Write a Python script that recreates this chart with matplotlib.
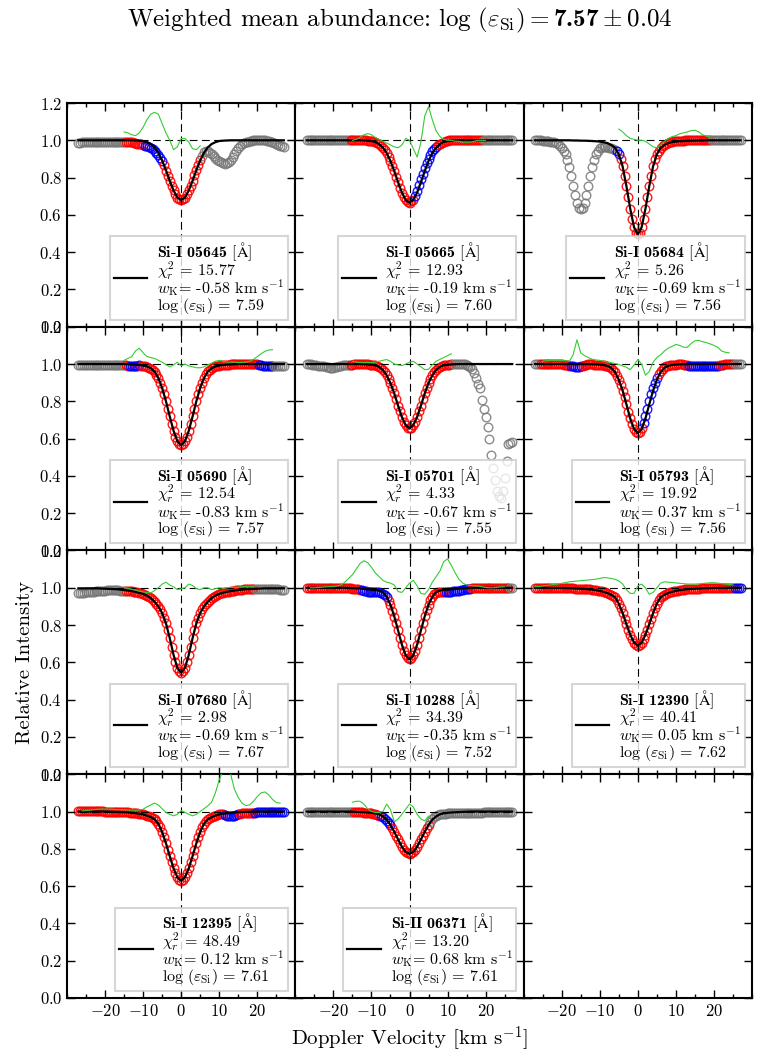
import numpy as np
import matplotlib
matplotlib.use('Agg')
import matplotlib.pyplot as plt
from matplotlib.lines import Line2D
from matplotlib.ticker import MultipleLocator, FixedLocator

plt.rcParams['font.family'] = 'serif'
plt.rcParams['font.serif'] = ['cmr10']
plt.rcParams['mathtext.fontset'] = 'custom'
plt.rcParams['mathtext.rm'] = 'cmr10'
plt.rcParams['mathtext.it'] = 'cmmi10'
plt.rcParams['mathtext.bf'] = 'cmb10'
plt.rcParams['mathtext.sf'] = 'cmss10'
plt.rcParams['mathtext.tt'] = 'cmtt10'
plt.rcParams['mathtext.cal'] = 'cmsy10'
plt.rcParams['mathtext.fallback'] = 'cm'
plt.rcParams['axes.formatter.use_mathtext'] = True
plt.rcParams['axes.unicode_minus'] = True

# ---------------- data ----------------
VEL_OBS = np.linspace(-27, 27, 109)   # observed samples, every 0.5 km/s
VEL_MOD = np.arange(-27, 28)          # model / residual samples, every 1 km/s

ELEMENTS = ['Si-I', 'Si-I', 'Si-I', 'Si-I', 'Si-I', 'Si-I', 'Si-I', 'Si-I', 'Si-I', 'Si-I', 'Si-II']
LINE_IDS = ['05645', '05665', '05684', '05690', '05701', '05793', '07680', '10288', '12390', '12395', '06371']
CHI2 = [15.77, 12.93, 5.26, 12.54, 4.33, 19.92, 2.98, 34.39, 40.41, 48.49, 13.20]
WK = [-0.58, -0.19, -0.69, -0.83, -0.67, 0.37, -0.69, -0.35, 0.05, 0.12, 0.68]
LOGEPS = [7.59, 7.60, 7.56, 7.57, 7.55, 7.56, 7.67, 7.52, 7.62, 7.61, 7.61]
MEAN_LOGEPS = 7.57
ERR_LOGEPS = 0.04
XTICKS = [-20, -10, 0, 10, 20]

# Si-I 05645
OBS_05645 = [0.985, 0.988, 0.99, 0.99, 0.99, 0.99, 0.99, 0.99, 0.99, 0.99,
             0.99, 0.99, 0.99, 0.99, 0.99, 0.99, 0.99, 0.99, 0.99, 0.99,
             0.99, 0.99, 0.99, 0.99, 0.99, 0.99, 0.99, 0.99, 0.99, 0.988,
             0.985, 0.982, 0.98, 0.978, 0.975, 0.972, 0.968, 0.963, 0.958, 0.951,
             0.943, 0.933, 0.92, 0.906, 0.888, 0.865, 0.838, 0.811, 0.783, 0.756,
             0.731, 0.71, 0.693, 0.683, 0.68, 0.683, 0.693, 0.71, 0.731, 0.756,
             0.783, 0.812, 0.84, 0.867, 0.892, 0.915, 0.935, 0.94, 0.94, 0.934,
             0.925, 0.915, 0.905, 0.897, 0.89, 0.883, 0.878, 0.875, 0.876, 0.884,
             0.895, 0.91, 0.925, 0.943, 0.96, 0.972, 0.98, 0.986, 0.99, 0.993,
             0.995, 0.998, 1.0, 1.0, 1.0, 1.0, 1.0, 1.0, 1.0, 0.998,
             0.995, 0.993, 0.99, 0.985, 0.98, 0.975, 0.97, 0.967, 0.965]
MOD_05645 = [1.0, 1.0, 1.0, 1.0, 1.0, 1.0, 1.0, 1.0, 1.0, 1.0, 1.0,
             1.0, 1.0, 1.0, 1.0, 0.999, 0.998, 0.996, 0.99, 0.98, 0.962, 0.933,
             0.892, 0.84, 0.783, 0.731, 0.693, 0.68, 0.693, 0.731, 0.783, 0.84, 0.892,
             0.933, 0.962, 0.98, 0.99, 0.996, 0.998, 0.999, 1.0, 1.0, 1.0, 1.0,
             1.0, 1.0, 1.0, 1.0, 1.0, 1.0, 1.0, 1.0, 1.0, 1.0, 1.0]
SEG_05645 = [(-27, 'gray'), (-14.5, 'red'), (-9.5, 'blue'), (-4.5, 'red'), (5.5, 'gray')]
RES0_05645 = -15
RES_05645 = [1.045, 1.04, 1.03, 1.025, 1.04, 1.07, 1.11, 1.14, 1.15, 1.14,
             1.09, 1.04, 1.0, 0.95, 0.965, 1.01, 1.01, 0.99, 0.955, 0.95, 0.97]

# Si-I 05665
OBS_05665 = [1.0, 1.0, 1.0, 1.0, 1.0, 1.0, 1.0, 1.0, 1.0, 1.0,
             1.0, 1.0, 1.0, 1.0, 1.0, 1.0, 1.0, 1.0, 1.0, 1.0,
             1.0, 1.0, 1.0, 1.0, 1.0, 1.0, 1.0, 1.0, 1.0, 1.0,
             1.0, 0.999, 0.998, 0.997, 0.996, 0.994, 0.99, 0.985, 0.978, 0.969,
             0.958, 0.946, 0.93, 0.91, 0.887, 0.861, 0.834, 0.805, 0.775, 0.746,
             0.72, 0.697, 0.68, 0.67, 0.666, 0.672, 0.682, 0.703, 0.73, 0.76,
             0.79, 0.82, 0.85, 0.877, 0.9, 0.922, 0.94, 0.954, 0.965, 0.974,
             0.982, 0.988, 0.992, 0.995, 0.998, 0.999, 1.0, 1.002, 1.003, 1.003,
             1.003, 1.003, 1.003, 1.003, 1.003, 1.003, 1.003, 1.003, 1.003, 1.003,
             1.003, 1.002, 1.0, 1.0, 1.0, 1.0, 1.0, 1.0, 1.0, 1.0,
             1.0, 1.0, 1.0, 1.0, 1.0, 1.0, 1.0, 1.0, 1.0]
MOD_05665 = [1.0, 1.0, 1.0, 1.0, 1.0, 1.0, 1.0, 1.0, 1.0, 1.0, 1.0,
             1.0, 1.0, 1.0, 1.0, 0.999, 0.998, 0.996, 0.991, 0.98, 0.961, 0.932,
             0.889, 0.835, 0.775, 0.72, 0.68, 0.666, 0.68, 0.72, 0.775, 0.835, 0.889,
             0.932, 0.961, 0.98, 0.991, 0.996, 0.998, 0.999, 1.0, 1.0, 1.0, 1.0,
             1.0, 1.0, 1.0, 1.0, 1.0, 1.0, 1.0, 1.0, 1.0, 1.0, 1.0]
SEG_05665 = [(-27, 'gray'), (-15.5, 'red'), (1.5, 'blue'), (7.5, 'red'), (19.5, 'gray')]
RES0_05665 = -15
RES_05665 = [1.0, 1.005, 1.015, 1.03, 1.036, 1.03, 1.015, 1.005, 0.995, 0.985,
             0.975, 0.965, 0.96, 0.975, 1.01, 1.0, 0.955, 0.91, 0.99, 1.13,
             1.18, 1.11, 1.05, 1.02, 1.005, 1.0, 1.0, 0.995, 0.995, 0.99,
             0.99, 0.99, 0.995, 1.0, 1.0, 1.0]

# Si-I 05684
OBS_05684 = [1.0, 1.0, 1.0, 0.999, 0.998, 0.997, 0.996, 0.995, 0.993, 0.992,
             0.99, 0.986, 0.98, 0.972, 0.96, 0.945, 0.925, 0.895, 0.855, 0.806,
             0.755, 0.707, 0.665, 0.639, 0.63, 0.639, 0.665, 0.707, 0.755, 0.806,
             0.855, 0.895, 0.925, 0.945, 0.96, 0.964, 0.965, 0.964, 0.962, 0.961,
             0.96, 0.956, 0.95, 0.94, 0.925, 0.9, 0.86, 0.81, 0.754, 0.694,
             0.633, 0.578, 0.534, 0.505, 0.495, 0.505, 0.534, 0.578, 0.633, 0.694,
             0.754, 0.81, 0.86, 0.9, 0.925, 0.945, 0.96, 0.969, 0.977, 0.982,
             0.987, 0.99, 0.992, 0.994, 0.995, 0.996, 0.997, 0.998, 0.998, 0.999,
             0.999, 0.999, 1.0, 1.0, 1.0, 1.0, 1.0, 1.0, 1.0, 1.0,
             1.0, 1.0, 1.0, 1.0, 1.0, 1.0, 1.0, 1.0, 1.0, 1.0,
             1.0, 1.0, 1.0, 1.0, 1.0, 1.0, 1.0, 1.0, 1.0]
MOD_05684 = [1.0, 1.0, 1.0, 1.0, 1.0, 1.0, 1.0, 1.0, 1.0, 1.0, 0.999,
             0.999, 0.998, 0.998, 0.997, 0.996, 0.995, 0.993, 0.99, 0.985, 0.975, 0.96,
             0.925, 0.86, 0.754, 0.633, 0.534, 0.495, 0.534, 0.633, 0.754, 0.86, 0.925,
             0.96, 0.975, 0.985, 0.99, 0.993, 0.995, 0.996, 0.997, 0.998, 0.998, 0.999,
             0.999, 1.0, 1.0, 1.0, 1.0, 1.0, 1.0, 1.0, 1.0, 1.0, 1.0]
SEG_05684 = [(-27, 'gray'), (-5.5, 'blue'), (-4.5, 'red'), (19.5, 'gray')]
RES0_05684 = -5
RES_05684 = [1.06, 1.045, 1.025, 1.01, 1.005, 1.0, 1.0, 0.995, 0.98, 0.965,
             0.96, 0.975, 0.995, 1.01, 1.02, 1.025, 1.035, 1.04, 1.045, 1.052,
             1.054, 1.045, 1.03, 1.022, 1.018]

# Si-I 05690
OBS_05690 = [0.995, 0.995, 0.995, 0.995, 0.995, 0.995, 0.995, 0.995, 0.995, 0.995,
             0.995, 0.995, 0.995, 0.995, 0.995, 0.995, 0.995, 0.995, 0.995, 0.995,
             0.995, 0.995, 0.995, 0.995, 0.995, 0.993, 0.99, 0.988, 0.988, 0.989,
             0.99, 0.992, 0.993, 0.992, 0.99, 0.988, 0.985, 0.981, 0.976, 0.968,
             0.958, 0.943, 0.923, 0.898, 0.87, 0.837, 0.8, 0.76, 0.719, 0.679,
             0.642, 0.61, 0.586, 0.57, 0.565, 0.57, 0.586, 0.61, 0.642, 0.679,
             0.719, 0.761, 0.801, 0.838, 0.872, 0.9, 0.925, 0.945, 0.96, 0.97,
             0.978, 0.983, 0.987, 0.99, 0.992, 0.994, 0.995, 0.996, 0.997, 0.9975,
             0.998, 0.998, 0.999, 1.0, 1.0, 1.0, 1.0, 1.0, 1.0, 1.0,
             1.0, 1.0, 1.0, 0.999, 0.998, 0.996, 0.993, 0.991, 0.99, 0.99,
             0.99, 0.99, 0.99, 0.991, 0.992, 0.992, 0.992, 0.991, 0.99]
MOD_05690 = [1.0, 1.0, 1.0, 1.0, 1.0, 1.0, 1.0, 1.0, 1.0, 1.0, 1.0,
             1.0, 1.0, 0.999, 0.998, 0.997, 0.995, 0.992, 0.987, 0.978, 0.96, 0.925,
             0.872, 0.801, 0.719, 0.642, 0.586, 0.565, 0.586, 0.642, 0.719, 0.801, 0.872,
             0.925, 0.96, 0.978, 0.987, 0.992, 0.995, 0.997, 0.998, 0.999, 1.0, 1.0,
             1.0, 1.0, 1.0, 1.0, 1.0, 1.0, 1.0, 1.0, 1.0, 1.0, 1.0]
SEG_05690 = [(-27, 'gray'), (-14.5, 'red'), (-13.5, 'blue'), (-10.5, 'red'), (20.5, 'blue'), (24.5, 'gray')]
RES0_05690 = -15
RES_05690 = [1.02, 1.03, 1.04, 1.07, 1.085, 1.06, 1.04, 1.035, 1.03, 1.02,
             1.01, 0.997, 0.985, 0.995, 1.01, 0.99, 1.0, 0.99, 0.985, 0.98,
             0.98, 0.985, 0.995, 1.005, 1.015, 1.02, 1.015, 1.01, 1.01, 1.01,
             1.008, 1.008, 1.01, 1.015, 1.025, 1.04, 1.055, 1.068, 1.075, 1.077]

# Si-I 05701
OBS_05701 = [1.0, 0.999, 0.998, 0.997, 0.995, 0.993, 0.992, 0.991, 0.99, 0.988,
             0.985, 0.982, 0.98, 0.979, 0.98, 0.982, 0.985, 0.988, 0.99, 0.993,
             0.995, 0.995, 0.995, 0.996, 0.997, 0.999, 1.0, 1.0, 1.0, 1.0,
             0.999, 0.999, 0.998, 0.997, 0.996, 0.995, 0.993, 0.99, 0.985, 0.978,
             0.968, 0.956, 0.94, 0.921, 0.898, 0.872, 0.842, 0.81, 0.777, 0.746,
             0.716, 0.691, 0.672, 0.659, 0.655, 0.659, 0.672, 0.691, 0.716, 0.746,
             0.777, 0.81, 0.842, 0.872, 0.898, 0.921, 0.94, 0.956, 0.968, 0.978,
             0.985, 0.99, 0.993, 0.995, 0.996, 0.997, 0.998, 0.999, 1.0, 1.0,
             1.0, 1.0, 1.0, 0.998, 0.995, 0.99, 0.983, 0.975, 0.95, 0.925,
             0.895, 0.87, 0.806, 0.76, 0.715, 0.66, 0.6, 0.51, 0.44, 0.38,
             0.32, 0.29, 0.28, 0.32, 0.39, 0.48, 0.57, 0.575, 0.58]
MOD_05701 = [1.0, 1.0, 1.0, 1.0, 1.0, 1.0, 1.0, 1.0, 1.0, 1.0, 1.0,
             1.0, 1.0, 1.0, 1.0, 0.999, 0.998, 0.996, 0.993, 0.985, 0.968, 0.94,
             0.898, 0.842, 0.777, 0.716, 0.672, 0.655, 0.672, 0.716, 0.777, 0.842, 0.898,
             0.94, 0.968, 0.985, 0.993, 0.996, 0.998, 0.999, 1.0, 1.0, 1.0, 1.0,
             1.0, 1.0, 1.0, 1.0, 1.0, 1.0, 1.0, 1.0, 1.0, 1.0, 1.0]
SEG_05701 = [(-27, 'gray'), (-15.5, 'red'), (11.5, 'gray')]
RES0_05701 = -15
RES_05701 = [1.015, 1.01, 1.008, 1.007, 1.008, 1.008, 1.01, 1.015, 1.02, 1.024,
             1.015, 1.0, 0.995, 0.992, 1.0, 1.01, 1.015, 1.0, 0.985, 0.97,
             0.972, 0.995, 1.015, 1.025, 1.035, 1.045, 1.055]

# Si-I 05793
OBS_05793 = [1.0, 1.0, 1.0, 1.0, 1.0, 1.0, 1.0, 1.0, 1.0, 1.0,
             1.0, 1.0, 1.0, 0.999, 0.998, 0.997, 0.995, 0.994, 0.992, 0.99,
             0.988, 0.986, 0.985, 0.986, 0.988, 0.992, 0.995, 0.997, 0.998, 0.998,
             0.998, 0.997, 0.997, 0.996, 0.996, 0.995, 0.994, 0.992, 0.99, 0.986,
             0.978, 0.968, 0.955, 0.937, 0.914, 0.887, 0.855, 0.821, 0.784, 0.745,
             0.708, 0.676, 0.651, 0.635, 0.63, 0.638, 0.655, 0.685, 0.72, 0.76,
             0.8, 0.837, 0.87, 0.9, 0.925, 0.946, 0.962, 0.974, 0.982, 0.987,
             0.99, 0.993, 0.995, 0.996, 0.997, 0.998, 0.998, 0.998, 0.997, 0.995,
             0.993, 0.991, 0.99, 0.989, 0.988, 0.988, 0.988, 0.988, 0.988, 0.988,
             0.988, 0.989, 0.99, 0.99, 0.99, 0.991, 0.992, 0.994, 0.995, 0.997,
             0.998, 0.999, 1.0, 1.0, 1.0, 1.0, 1.0, 1.0, 1.0]
MOD_05793 = [1.0, 1.0, 1.0, 1.0, 1.0, 1.0, 1.0, 1.0, 1.0, 1.0, 1.0,
             1.0, 1.0, 1.0, 1.0, 0.999, 0.998, 0.997, 0.995, 0.99, 0.98, 0.957,
             0.916, 0.857, 0.784, 0.708, 0.651, 0.63, 0.651, 0.708, 0.784, 0.857, 0.916,
             0.957, 0.98, 0.99, 0.995, 0.997, 0.998, 0.999, 1.0, 1.0, 1.0, 1.0,
             1.0, 1.0, 1.0, 1.0, 1.0, 1.0, 1.0, 1.0, 1.0, 1.0, 1.0]
SEG_05793 = [(-27, 'gray'), (-25.5, 'red'), (-17.5, 'blue'), (-14.5, 'red'), (1.5, 'blue'),
             (5.5, 'red'), (13.5, 'blue'), (21.5, 'red'), (25.5, 'gray')]
RES0_05793 = -25
RES_05793 = [1.015, 1.018, 1.02, 1.02, 1.02, 1.02, 1.018, 1.015, 1.05, 1.13,
             1.06, 1.045, 1.035, 1.026, 1.022, 1.02, 1.015, 1.01, 1.007, 1.003,
             0.998, 0.99, 0.983, 0.97, 0.995, 1.024, 1.0, 0.94, 0.96, 1.01,
             1.035, 1.05, 1.07, 1.085, 1.095, 1.105, 1.1, 1.09, 1.09, 1.11,
             1.125, 1.127, 1.12, 1.115, 1.108, 1.1, 1.09, 1.07, 1.063, 1.06]

# Si-I 07680
OBS_07680 = [0.97, 0.971, 0.972, 0.974, 0.975, 0.977, 0.978, 0.979, 0.98, 0.981,
             0.982, 0.983, 0.984, 0.985, 0.985, 0.986, 0.986, 0.986, 0.986, 0.986,
             0.986, 0.986, 0.985, 0.985, 0.984, 0.985, 0.985, 0.984, 0.982, 0.98,
             0.978, 0.976, 0.973, 0.97, 0.967, 0.963, 0.958, 0.952, 0.945, 0.936,
             0.925, 0.913, 0.9, 0.884, 0.865, 0.84, 0.81, 0.772, 0.73, 0.682,
             0.64, 0.6, 0.57, 0.551, 0.545, 0.551, 0.57, 0.6, 0.64, 0.682,
             0.73, 0.772, 0.81, 0.84, 0.865, 0.884, 0.9, 0.913, 0.925, 0.936,
             0.945, 0.952, 0.958, 0.963, 0.967, 0.97, 0.973, 0.976, 0.978, 0.98,
             0.982, 0.984, 0.985, 0.987, 0.988, 0.989, 0.99, 0.991, 0.992, 0.993,
             0.993, 0.994, 0.994, 0.994, 0.994, 0.994, 0.993, 0.993, 0.992, 0.992,
             0.992, 0.992, 0.992, 0.992, 0.991, 0.991, 0.99, 0.99, 0.99]
MOD_07680 = [0.997, 0.997, 0.997, 0.997, 0.997, 0.997, 0.996, 0.995, 0.994, 0.993, 0.992,
             0.99, 0.988, 0.985, 0.982, 0.978, 0.973, 0.967, 0.958, 0.945, 0.925, 0.9,
             0.865, 0.81, 0.73, 0.64, 0.57, 0.545, 0.57, 0.64, 0.73, 0.81, 0.865,
             0.9, 0.925, 0.945, 0.958, 0.967, 0.973, 0.978, 0.982, 0.985, 0.988, 0.99,
             0.992, 0.993, 0.994, 0.995, 0.996, 0.997, 0.997, 0.997, 0.997, 0.997, 0.997]
SEG_07680 = [(-27, 'gray'), (-14.5, 'red'), (19.5, 'gray')]
RES0_07680 = -15
RES_07680 = [1.0, 0.998, 0.992, 0.988, 0.982, 0.978, 0.975, 0.972, 0.985, 1.0,
             1.02, 1.03, 1.015, 1.005, 0.99, 0.995, 1.0, 1.02, 1.012, 0.995,
             0.99, 1.0, 1.0, 0.99, 0.995, 1.0, 0.998, 1.0, 1.002, 1.002,
             1.004, 1.005, 1.008, 1.008, 1.008]

# Si-I 10288
OBS_10288 = [1.0, 1.0, 1.0, 1.0, 1.0, 1.0, 1.0, 1.0, 1.0, 1.0,
             1.0, 1.0, 1.0, 1.0, 1.0, 1.0, 1.0, 1.0, 1.0, 0.999,
             0.999, 0.998, 0.998, 0.997, 0.996, 0.995, 0.994, 0.992, 0.99, 0.988,
             0.985, 0.982, 0.98, 0.979, 0.978, 0.977, 0.976, 0.975, 0.975, 0.972,
             0.968, 0.96, 0.948, 0.93, 0.905, 0.878, 0.845, 0.81, 0.771, 0.732,
             0.695, 0.662, 0.637, 0.621, 0.616, 0.621, 0.637, 0.662, 0.695, 0.732,
             0.771, 0.81, 0.847, 0.88, 0.909, 0.932, 0.952, 0.964, 0.972, 0.976,
             0.978, 0.978, 0.978, 0.978, 0.978, 0.979, 0.98, 0.981, 0.982, 0.983,
             0.985, 0.988, 0.99, 0.992, 0.993, 0.994, 0.995, 0.997, 0.998, 0.999,
             1.0, 1.0, 1.0, 1.0, 1.0, 1.0, 1.0, 1.0, 1.0, 1.0,
             1.0, 1.0, 1.0, 1.0, 1.0, 1.0, 1.0, 1.0, 1.0]
MOD_10288 = [1.0, 1.0, 1.0, 1.0, 1.0, 1.0, 1.0, 1.0, 1.0, 1.0, 1.0,
             0.999, 0.998, 0.997, 0.996, 0.994, 0.992, 0.99, 0.988, 0.985, 0.977, 0.952,
             0.909, 0.847, 0.771, 0.695, 0.637, 0.616, 0.637, 0.695, 0.771, 0.847, 0.909,
             0.952, 0.977, 0.985, 0.988, 0.99, 0.992, 0.994, 0.996, 0.997, 0.998, 0.999,
             1.0, 1.0, 1.0, 1.0, 1.0, 1.0, 1.0, 1.0, 1.0, 1.0, 1.0]
SEG_10288 = [(-27, 'red'), (-12.5, 'blue'), (-5.5, 'red'), (9.5, 'blue'), (16.5, 'red'), (26.5, 'gray')]
RES0_10288 = -26
RES_10288 = [1.0, 1.0, 1.002, 1.003, 1.005, 1.006, 1.007, 1.01, 1.015, 1.03,
             1.05, 1.07, 1.1, 1.13, 1.145, 1.135, 1.11, 1.08, 1.06, 1.04,
             1.03, 1.025, 1.015, 0.98, 0.975, 1.0, 1.025, 1.04, 1.01, 0.97,
             0.965, 0.99, 1.03, 1.06, 1.09, 1.14, 1.155, 1.12, 1.08, 1.045,
             1.025, 1.015, 1.012, 1.01, 1.01, 1.005, 1.002, 1.0, 1.0, 1.002,
             1.005, 1.005]

# Si-I 12390
OBS_12390 = [1.0, 1.0, 1.0, 1.0, 1.0, 1.0, 1.0, 1.0, 0.999, 0.999,
             0.999, 0.999, 0.999, 0.999, 0.999, 0.998, 0.998, 0.998, 0.998, 0.997,
             0.997, 0.996, 0.996, 0.995, 0.995, 0.994, 0.994, 0.993, 0.992, 0.991,
             0.99, 0.989, 0.987, 0.985, 0.983, 0.981, 0.978, 0.975, 0.972, 0.967,
             0.962, 0.957, 0.95, 0.935, 0.915, 0.891, 0.864, 0.835, 0.805, 0.775,
             0.748, 0.724, 0.706, 0.694, 0.69, 0.694, 0.706, 0.724, 0.748, 0.775,
             0.805, 0.835, 0.864, 0.891, 0.915, 0.935, 0.95, 0.957, 0.962, 0.967,
             0.972, 0.975, 0.978, 0.981, 0.983, 0.985, 0.987, 0.989, 0.99, 0.991,
             0.992, 0.993, 0.994, 0.995, 0.995, 0.996, 0.996, 0.997, 0.997, 0.998,
             0.998, 0.999, 0.999, 1.0, 1.0, 1.0, 1.0, 1.0, 1.0, 1.0,
             1.0, 1.0, 1.0, 1.0, 1.0, 1.0, 1.0, 1.0, 1.0]
MOD_12390 = [1.0, 1.0, 1.0, 1.0, 0.999, 0.999, 0.999, 0.999, 0.998, 0.998, 0.997,
             0.996, 0.995, 0.994, 0.992, 0.99, 0.987, 0.983, 0.978, 0.972, 0.962, 0.95,
             0.915, 0.864, 0.805, 0.748, 0.706, 0.69, 0.706, 0.748, 0.805, 0.864, 0.915,
             0.95, 0.962, 0.972, 0.978, 0.983, 0.987, 0.99, 0.992, 0.994, 0.995, 0.996,
             0.997, 0.998, 0.998, 0.999, 0.999, 0.999, 0.999, 1.0, 1.0, 1.0, 1.0]
SEG_12390 = [(-27, 'red'), (25.5, 'blue')]
RES0_12390 = -27
RES_12390 = [1.005, 1.007, 1.01, 1.012, 1.015, 1.018, 1.02, 1.024, 1.028, 1.032,
             1.034, 1.036, 1.038, 1.04, 1.042, 1.044, 1.046, 1.05, 1.055, 1.053,
             1.05, 1.045, 1.037, 1.02, 0.99, 0.97, 0.97, 1.01, 1.02, 1.0,
             0.965, 0.975, 1.0, 1.025, 1.032, 1.03, 1.028, 1.026, 1.024, 1.022,
             1.02, 1.02, 1.02, 1.021, 1.023, 1.025, 1.027, 1.027, 1.025, 1.022,
             1.02, 1.018, 1.015]

# Si-I 12395
OBS_12395 = [1.002, 1.002, 1.002, 1.002, 1.002, 1.002, 1.002, 1.002, 1.002, 1.002,
             1.002, 1.002, 1.002, 1.001, 1.0, 0.999, 0.999, 0.998, 0.998, 0.998,
             0.998, 0.997, 0.997, 0.996, 0.996, 0.995, 0.995, 0.994, 0.993, 0.992,
             0.991, 0.99, 0.988, 0.986, 0.984, 0.981, 0.978, 0.974, 0.97, 0.965,
             0.958, 0.948, 0.935, 0.915, 0.89, 0.862, 0.83, 0.796, 0.761, 0.727,
             0.695, 0.668, 0.647, 0.633, 0.629, 0.633, 0.647, 0.668, 0.695, 0.727,
             0.761, 0.796, 0.83, 0.862, 0.89, 0.915, 0.935, 0.948, 0.958, 0.965,
             0.97, 0.974, 0.978, 0.981, 0.984, 0.985, 0.985, 0.982, 0.978, 0.976,
             0.975, 0.976, 0.978, 0.982, 0.985, 0.988, 0.99, 0.991, 0.992, 0.992,
             0.992, 0.993, 0.993, 0.994, 0.995, 0.996, 0.997, 0.998, 0.998, 0.999,
             1.0, 1.0, 1.0, 1.0, 1.0, 1.0, 1.0, 1.0, 1.0]
MOD_12395 = [1.0, 1.0, 1.0, 1.0, 1.0, 1.0, 1.0, 1.0, 0.999, 0.998, 0.998,
             0.997, 0.996, 0.995, 0.993, 0.991, 0.988, 0.984, 0.978, 0.97, 0.958, 0.935,
             0.89, 0.83, 0.761, 0.695, 0.647, 0.629, 0.647, 0.695, 0.761, 0.83, 0.89,
             0.935, 0.958, 0.97, 0.978, 0.984, 0.988, 0.991, 0.993, 0.995, 0.996, 0.997,
             0.998, 0.998, 0.999, 1.0, 1.0, 1.0, 1.0, 1.0, 1.0, 1.0, 1.0]
SEG_12395 = [(-27, 'red'), (11.5, 'blue'), (15.5, 'red'), (19.5, 'blue')]
RES0_12395 = -26
RES_12395 = [1.003, 1.005, 1.007, 1.01, 1.012, 1.013, 1.013, 1.013, 1.012, 1.01,
             1.01, 1.01, 1.008, 1.007, 1.007, 1.008, 1.012, 1.025, 1.035, 1.045,
             1.035, 1.015, 0.995, 0.985, 0.977, 0.985, 1.005, 0.995, 0.985, 0.977,
             0.985, 1.0, 1.015, 1.03, 1.05, 1.1, 1.17, 1.22, 1.25, 1.2,
             1.12, 1.075, 1.045, 1.032, 1.035, 1.055, 1.08, 1.1, 1.105, 1.09,
             1.065, 1.048, 1.045]

# Si-II 06371
OBS_06371 = [0.998, 0.998, 0.998, 0.998, 0.998, 0.998, 0.998, 0.998, 0.998, 0.998,
             0.998, 0.998, 0.998, 0.998, 0.998, 0.998, 0.998, 0.998, 0.998, 0.998,
             0.998, 0.998, 0.998, 0.998, 0.998, 0.998, 0.997, 0.996, 0.995, 0.995,
             0.994, 0.994, 0.993, 0.992, 0.99, 0.988, 0.985, 0.982, 0.978, 0.974,
             0.968, 0.96, 0.95, 0.941, 0.93, 0.911, 0.891, 0.871, 0.85, 0.83,
             0.811, 0.795, 0.783, 0.776, 0.773, 0.776, 0.783, 0.795, 0.811, 0.83,
             0.85, 0.871, 0.891, 0.91, 0.928, 0.945, 0.96, 0.97, 0.978, 0.982,
             0.985, 0.987, 0.988, 0.989, 0.99, 0.99, 0.99, 0.991, 0.992, 0.992,
             0.992, 0.992, 0.992, 0.993, 0.993, 0.993, 0.993, 0.993, 0.993, 0.994,
             0.994, 0.994, 0.994, 0.995, 0.995, 0.995, 0.995, 0.996, 0.996, 0.996,
             0.996, 0.997, 0.997, 0.997, 0.997, 0.998, 0.998, 0.998, 0.998]
MOD_06371 = [1.0, 1.0, 1.0, 1.0, 1.0, 1.0, 1.0, 1.0, 1.0, 1.0, 1.0,
             1.0, 0.999, 0.998, 0.997, 0.996, 0.995, 0.993, 0.99, 0.985, 0.974, 0.956,
             0.928, 0.891, 0.85, 0.811, 0.783, 0.773, 0.783, 0.811, 0.85, 0.891, 0.928,
             0.956, 0.974, 0.985, 0.99, 0.993, 0.995, 0.996, 0.997, 0.998, 0.999, 1.0,
             1.0, 1.0, 1.0, 1.0, 1.0, 1.0, 1.0, 1.0, 1.0, 1.0, 1.0]
SEG_06371 = [(-27, 'gray'), (-14.5, 'red'), (-7.5, 'blue'), (-4.5, 'red'), (5.5, 'gray')]
RES0_06371 = -15
RES_06371 = [1.05, 1.055, 1.055, 1.04, 1.015, 1.0, 0.995, 0.995, 1.0, 1.04,
             1.01, 0.945, 0.96, 0.985, 1.013, 1.04, 1.025, 0.985, 0.96, 0.95, 0.975]

OBS = [OBS_05645, OBS_05665, OBS_05684, OBS_05690, OBS_05701, OBS_05793,
       OBS_07680, OBS_10288, OBS_12390, OBS_12395, OBS_06371]
MOD = [MOD_05645, MOD_05665, MOD_05684, MOD_05690, MOD_05701, MOD_05793,
       MOD_07680, MOD_10288, MOD_12390, MOD_12395, MOD_06371]
SEG = [SEG_05645, SEG_05665, SEG_05684, SEG_05690, SEG_05701, SEG_05793,
       SEG_07680, SEG_10288, SEG_12390, SEG_12395, SEG_06371]
RES = [RES_05645, RES_05665, RES_05684, RES_05690, RES_05701, RES_05793,
       RES_07680, RES_10288, RES_12390, RES_12395, RES_06371]
RES0 = [RES0_05645, RES0_05665, RES0_05684, RES0_05690, RES0_05701, RES0_05793,
        RES0_07680, RES0_10288, RES0_12390, RES0_12395, RES0_06371]

# ---------------- figure ----------------
COLORS = {'gray': '#777777', 'red': '#ff0000', 'blue': '#0000ff'}
ALPHAS = {'gray': 0.85, 'red': 0.9, 'blue': 0.9}

fig, axes = plt.subplots(4, 3, sharex=True, sharey=True, figsize=(7.63, 10.62), dpi=100)
fig.subplots_adjust(left=0.0878, right=0.9856, top=0.903, bottom=0.0603, wspace=0, hspace=0)

for ax in axes.flat:
    ax.set_xlim(-30, 30)
    ax.set_ylim(0, 1.2)
    ax.xaxis.set_major_locator(FixedLocator(XTICKS))
    ax.xaxis.set_minor_locator(MultipleLocator(5))
    ax.yaxis.set_major_locator(MultipleLocator(0.2))
    ax.tick_params(which='both', direction='in', top=True, right=True, labelsize=12)
    ax.tick_params(which='major', length=6, width=1)
    ax.tick_params(which='minor', length=3, width=1)
    for sp in ax.spines.values():
        sp.set_linewidth(1.5)

for i in range(len(LINE_IDS)):
    ax = axes.flat[i]
    n = min(len(OBS[i]), len(VEL_OBS))
    v = VEL_OBS[:n]
    obs = np.array(OBS[i][:n])
    seg = SEG[i]
    for j, (start, c) in enumerate(seg):
        end = seg[j + 1][0] if j + 1 < len(seg) else 1e9
        m = (v >= start - 1e-6) & (v < end - 1e-6)
        ax.plot(v[m], obs[m], 'o', ls='none', mfc='none', mec=COLORS[c],
                mew=1.0, ms=6.2, alpha=ALPHAS[c], zorder=2)
    ax.axhline(1.0, color='k', lw=0.8, ls=(0, (7, 4)), zorder=3)
    ax.axvline(0.0, color='k', lw=0.8, ls=(0, (7, 4)), zorder=3)
    ax.plot(VEL_MOD, MOD[i], color='k', lw=1.6, zorder=4)
    rv = np.arange(RES0[i], RES0[i] + len(RES[i]))
    ax.plot(rv, RES[i], color='#33cc33', lw=0.8, zorder=5)

    el = ELEMENTS[i].split('-')
    label = (r'$\mathbf{%s}$-$\mathbf{%s\ %s}$ [$\mathrm{\AA}$]' % (el[0], el[1], LINE_IDS[i])
             + '\n' + r'$\chi^2_r$ = %.2f' % CHI2[i]
             + '\n' + r'$w_{\rm K}$= %.2f km s$^{-1}$' % WK[i]
             + '\n' + r'$\log\,(\varepsilon_{\rm Si})$ = %.2f' % LOGEPS[i])
    leg = ax.legend(handles=[Line2D([], [], color='k', lw=1.6)], labels=[label],
                    loc='lower right', fontsize=11.5, frameon=True, fancybox=False,
                    edgecolor='#cccccc', framealpha=0.8, handlelength=2.1,
                    handletextpad=0.6, borderpad=0.25, borderaxespad=0.45)
    leg.get_frame().set_linewidth(1.5)
    for t in leg.get_texts():
        t.set_linespacing(0.76)

axes[2, 0].set_ylabel('Relative Intensity', fontsize=15)
axes[3, 1].set_xlabel(r'Doppler Velocity [km s$^{-1}$]', fontsize=15)

# plus-minus sign taken from cmsy10 (TeX slot 6 -> char 0xA7 in the BaKoMa ttf)
PM = '\u00a7'
fig.suptitle(r'Weighted mean abundance: $\log\,(\varepsilon_{\rm Si}) = \mathbf{%.2f}\:\mathcal{%s}\:%.2f$'
             % (MEAN_LOGEPS, PM, ERR_LOGEPS), fontsize=18, x=0.524, y=0.981, va='center')

fig.savefig('out.png', dpi=100)
